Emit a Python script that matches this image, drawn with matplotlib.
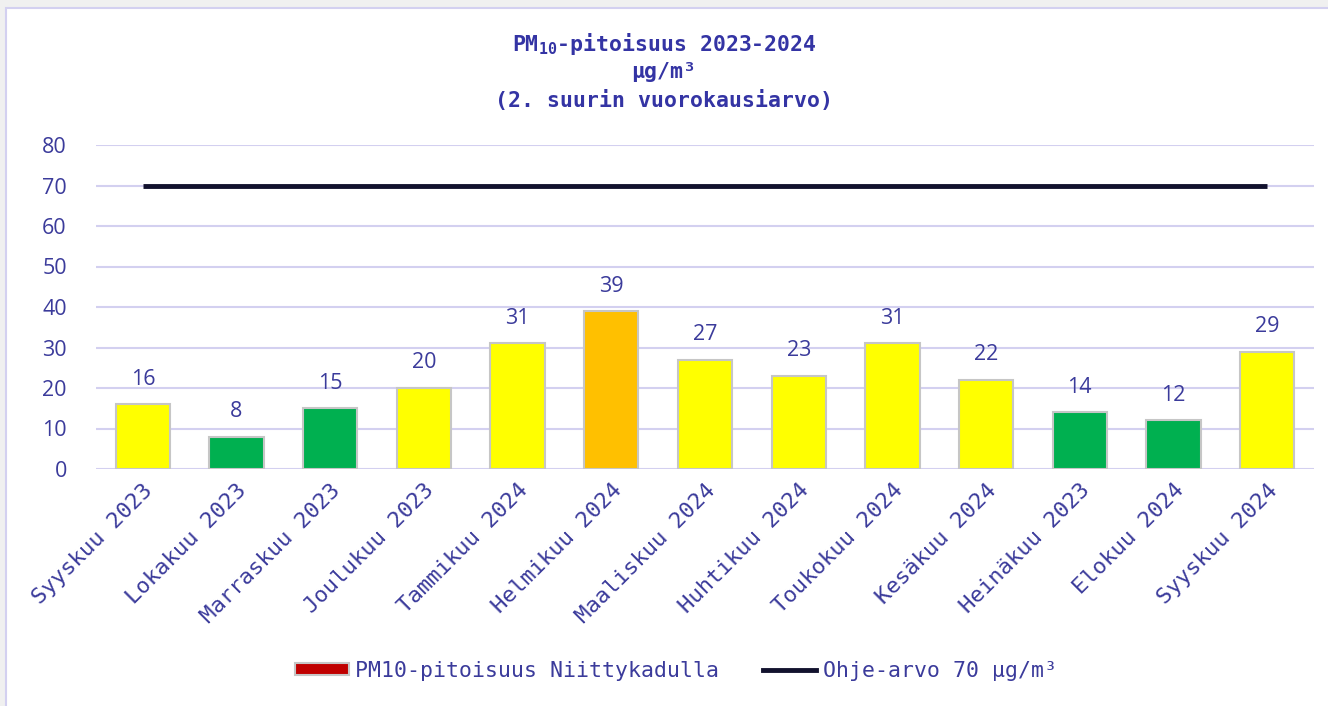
import matplotlib.pyplot as plt
from matplotlib.patches import Rectangle, Patch
from matplotlib.lines import Line2D

months = ["Syyskuu 2023", "Lokakuu 2023", "Marraskuu 2023", "Joulukuu 2023",
          "Tammikuu 2024", "Helmikuu 2024", "Maaliskuu 2024", "Huhtikuu 2024",
          "Toukokuu 2024", "Kesäkuu 2024", "Heinäkuu 2023", "Elokuu 2024",
          "Syyskuu 2024"]
values = [16, 8, 15, 20, 31, 39, 27, 23, 31, 22, 14, 12, 29]
bar_colors = ["#ffff00", "#00b050", "#00b050", "#ffff00", "#ffff00", "#ffc000",
              "#ffff00", "#ffff00", "#ffff00", "#ffff00", "#00b050", "#00b050",
              "#ffff00"]
guide_value = 70

TXT = "#3b3b9b"
TITLE = "#3434a4"
GRID = "#d3d0f0"
MONO = "DejaVu Sans Mono"
SANS = "Open Sans"

W, H = 1328, 706
fig = plt.figure(figsize=(W / 100, H / 100), dpi=100)
fig.patch.set_facecolor("#f0f0f0")
fig.add_artist(Rectangle((6 / W, -0.05), 1.1, (H - 7.5) / H + 0.05,
                         transform=fig.transFigure, facecolor="white",
                         edgecolor=GRID, linewidth=1.5, zorder=0))

ax = fig.add_axes([96 / W, 237 / H, 1218 / W, 324 / H])
ax.set_facecolor("none")
x = list(range(len(months)))
ax.bar(x, values, width=0.58, color=bar_colors, edgecolor="#c6c6c6",
       linewidth=1.5, zorder=3)
for xi, v in zip(x, values):
    ax.annotate(str(v), (xi, v), xytext=(0, 18), textcoords="offset points",
                ha="center", va="center", fontsize=15.5, color=TXT,
                family=SANS)
ax.plot([x[0], x[-1]], [guide_value, guide_value], color="#12122e",
        linewidth=3.5, solid_capstyle="butt", zorder=4)

ax.set_xlim(-0.5, len(months) - 0.5)
ax.set_ylim(0, 80)
ax.set_yticks(range(0, 81, 10))
ax.grid(axis="y", color=GRID, linewidth=1.5, zorder=0)
for s in ax.spines.values():
    s.set_visible(False)
ax.tick_params(length=0, colors=TXT)
ax.tick_params(axis="y", pad=21, labelsize=15.5)
for t in ax.get_yticklabels():
    t.set_family(SANS)
ax.set_xticks(x)
ax.set_xticklabels(months, rotation=45, ha="right", rotation_mode="anchor",
                   family=MONO, fontsize=16, color=TXT)
ax.tick_params(axis="x", pad=8)

fig.text(0.5, 1 - 44 / H, r"PM$_{\mathregular{10}}$-pitoisuus 2023-2024",
         ha="center", va="center", family=MONO, fontsize=15.5, weight="bold",
         color=TITLE)
fig.text(0.5, 1 - 72 / H, "µg/m³", ha="center", va="center", family=MONO,
         fontsize=15.5, weight="bold", color=TITLE)
fig.text(0.5, 1 - 100 / H, "(2. suurin vuorokausiarvo)", ha="center",
         va="center", family=MONO, fontsize=15.5, weight="bold", color=TITLE)

handles = [Patch(facecolor="#c00000", edgecolor="#c6c6c6", linewidth=1.5),
           Line2D([0], [0], color="#12122e", linewidth=3.5)]
labels = ["PM10-pitoisuus Niittykadulla", "Ohje-arvo 70 µg/m³"]
fig.legend(handles, labels, loc="center", bbox_to_anchor=(676 / W, 1 - 671 / H),
           ncol=2, frameon=False, handlelength=2.5, handleheight=0.5,
           handletextpad=0.3, columnspacing=2.0,
           prop={"family": MONO, "size": 15.5}, labelcolor=TXT)

fig.savefig("out.png", dpi=100, facecolor=fig.get_facecolor())
